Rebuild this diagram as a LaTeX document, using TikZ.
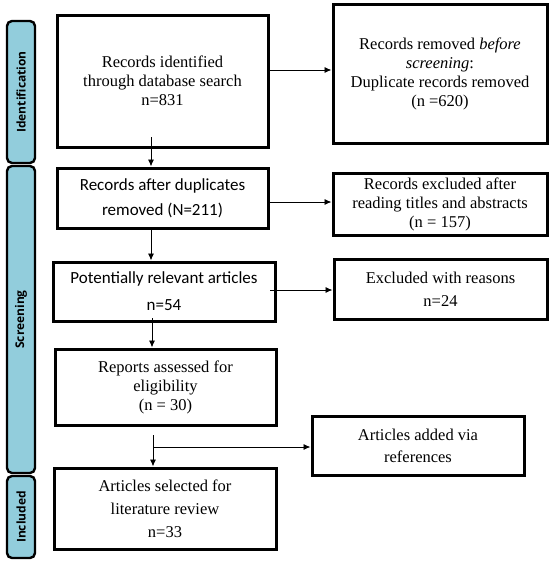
\documentclass[tikz,border=0pt]{standalone}
\usepackage{fontspec}
\setmainfont{Liberation Serif}
\newfontfamily\carl{Carlito}
\newfontfamily\osans{Open Sans}
\usetikzlibrary{arrows.meta,calc}
\definecolor{barblue}{HTML}{92CDDC}
\tikzset{
  box/.style={draw=black,line width=3pt,fill=white,inner sep=0pt,align=center,
    font=\fontsize{16.5}{19}\selectfont},
  sbox/.style={box,font=\carl\fontsize{17}{25}\selectfont},
  bar/.style={draw=black,line width=2.4pt,fill=barblue,rounded corners=5pt,inner sep=0pt},
  barlabel/.style={rotate=90,font=\osans\bfseries\fontsize{12}{14}\selectfont},
  arr/.style={-{Latex[length=7pt,width=6pt]},line width=0.9pt},
  ln/.style={line width=0.9pt}
}
\begin{document}
\begin{tikzpicture}[x=1pt,y=-1pt]
\useasboundingbox (0,0) rectangle (550,565);
% side bars
\node[bar,minimum width=28pt,minimum height=142pt] (bid) at (21,92) {};
\node[barlabel] (lid) at (bid.center) {Identification};
\node[bar,minimum width=28pt,minimum height=307pt] (bsc) at (21,319.5) {};
\node[barlabel] (lsc) at (bsc.center) {Screening};
\node[bar,minimum width=28pt,minimum height=82pt] (bin) at (21,517) {};
\node[barlabel] (lin) at (bin.center) {Included};
% main boxes
\node[box,minimum width=211pt,minimum height=132pt] (b1) at (162.5,81) {Records identified\\through database search\\n=831};
\node[sbox,minimum width=211pt,minimum height=60pt] (b2) at (162.5,198) {Records after duplicates\\removed (N=211)};
\node[sbox,minimum width=222pt,minimum height=59pt,font=\carl\fontsize{17}{27}\selectfont] (b3) at (164,291.5) {Potentially relevant articles\\n=54};
\node[box,minimum width=221pt,minimum height=76pt] (b4) at (165.5,387) {Reports assessed for\\eligibility\\(n = 30)};
\node[box,minimum width=222pt,minimum height=81pt,font=\fontsize{16.5}{23}\selectfont] (b5) at (165,508.5) {Articles selected for\\literature review\\n=33};
% right boxes
\node[box,minimum width=214pt,minimum height=139pt] (r1) at (440,74) {Records removed \textit{before}\\\textit{screening}:\\Duplicate records removed\\(n =620)};
\node[box,minimum width=214pt,minimum height=62pt] (r2) at (440,204) {Records excluded after\\reading titles and abstracts\\(n = 157)};
\node[box,minimum width=213pt,minimum height=60pt,font=\fontsize{16.5}{23}\selectfont] (r3) at (440.5,289) {Excluded with reasons\\n=24};
\node[box,minimum width=212pt,minimum height=59pt,font=\fontsize{16.5}{22}\selectfont] (r4) at (418,445.5) {Articles added via\\references};
% connectors
\draw[arr] (b1.east |- 0,70) -- (r1.west |- 0,70);
\draw[arr] (151,137) -- (151,0 |- b2.north);
\draw[arr] (b2.east |- 0,202) -- (r2.west |- 0,202);
\draw[arr] (151,0 |- b2.south) -- (151,0 |- b3.north);
\draw[arr] (270,290) -- (r3.west |- 0,290);
\draw[arr] (152,318) -- (152,0 |- b4.north);
\coordinate (j) at (153,447);
\draw[arr] (153,435) -- (153,0 |- b5.north);
\draw[arr] (j) -- (r4.west |- j);
\end{tikzpicture}
\end{document}
